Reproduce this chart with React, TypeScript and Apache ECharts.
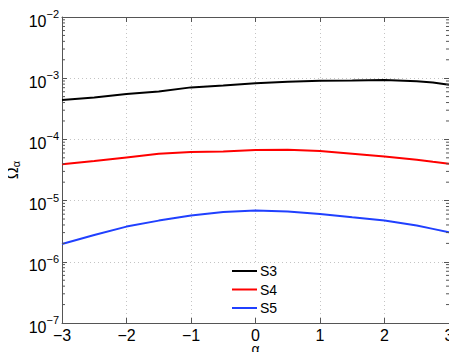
import React, { useEffect, useRef } from "react";
import * as echarts from "echarts";

const alphaValues = [-3, -2.5, -2, -1.5, -1, -0.5, 0, 0.5, 1, 1.5, 2, 2.5, 2.75, 3];
const s3Values = [4.41e-4, 4.85e-4, 5.52e-4, 6.08e-4, 7.08e-4, 7.62e-4, 8.28e-4, 8.77e-4, 9.09e-4, 9.2e-4, 9.35e-4, 8.9e-4, 8.53e-4, 7.83e-4];
const s4Values = [3.91e-5, 4.42e-5, 5.08e-5, 5.84e-5, 6.2e-5, 6.37e-5, 6.68e-5, 6.79e-5, 6.44e-5, 5.84e-5, 5.27e-5, 4.65e-5, 4.3e-5, 4.01e-5];
const s5Values = [1.96e-6, 2.75e-6, 3.76e-6, 4.71e-6, 5.69e-6, 6.53e-6, 6.87e-6, 6.61e-6, 6.06e-6, 5.33e-6, 4.71e-6, 3.91e-6, 3.45e-6, 3.03e-6];
const seriesNames = ["S3", "S4", "S5"];
const seriesColors = ["#000000", "#ff0000", "#2040ff"];
const xTicks = [-3, -2, -1, 0, 1, 2, 3];
const xMin = -3;
const xMax = 3;
const yMin = 1e-7;
const yMax = 1e-2;

const FONT = "'Liberation Sans', Arial, Helvetica, sans-serif";

function minorLogTicks(): number[] {
  const out: number[] = [];
  for (let e = -7; e <= -3; e++) {
    for (let k = 2; k <= 9; k++) out.push(parseFloat((k * Math.pow(10, e)).toPrecision(3)));
  }
  return out;
}

export default function App() {
  const ref = useRef<HTMLDivElement>(null);
  useEffect(() => {
    if (!ref.current) return;
    const chart = echarts.init(ref.current, undefined, { renderer: "svg" });
    const axisColor = "#555";
    const gridLine = { show: true, lineStyle: { color: "#c4c4c4", type: [1, 3] as any, width: 1 } };
    const minor = minorLogTicks();
    const yLabelFmt = (v: number) => {
      const e = Math.round(Math.log10(v));
      return "{b|10}{s|" + (e < 0 ? "\u2212" : "") + Math.abs(e) + "}";
    };
    const seriesData = [s3Values, s4Values, s5Values];
    const axisLine = { show: true, onZero: false, lineStyle: { color: axisColor, width: 1 } };
    const majorTick = { show: true, inside: true, length: 5, lineStyle: { color: axisColor } };
    chart.setOption({
      animation: false,
      textStyle: { fontFamily: FONT },
      grid: { left: 62, right: 8, top: 17, bottom: 37, containLabel: false, outerBoundsMode: "none" },
      legend: {
        data: seriesNames,
        orient: "vertical",
        left: 230,
        top: 263,
        icon: "rect",
        itemWidth: 25,
        itemHeight: 2,
        itemGap: 4.5,
        padding: [1, 2, 1, 2],
        backgroundColor: "#ffffff",
        textStyle: { fontSize: 14, color: "#000", fontFamily: FONT, lineHeight: 14, padding: [0, 0, 0, -2] },
      },
      xAxis: [
        {
          type: "value",
          position: "bottom",
          min: xMin,
          max: xMax,
          interval: 1,
          name: "\u03b1",
          nameLocation: "middle",
          nameGap: 20,
          nameMoveOverlap: false,
          nameTextStyle: { fontSize: 14, lineHeight: 12, color: "#000", fontFamily: FONT },
          axisLine,
          axisTick: majorTick,
          axisLabel: {
            fontSize: 16,
            lineHeight: 14,
            color: "#000",
            margin: 5,
            fontFamily: FONT,
            formatter: (v: number) => (v < 0 ? "\u2212" + Math.abs(v) : String(v)),
            customValues: xTicks,
          },
          splitLine: gridLine,
        },
        {
          type: "value",
          position: "top",
          min: xMin,
          max: xMax,
          interval: 1,
          axisLine,
          axisTick: majorTick,
          axisLabel: { show: false },
          splitLine: { show: false },
        },
      ],
      yAxis: [
        {
          type: "log",
          logBase: 10,
          position: "left",
          min: yMin,
          max: yMax,
          name: "{o|\u03a9}{a|\u03b1}",
          nameLocation: "middle",
          nameGap: 41,
          nameMoveOverlap: false,
          nameRotate: 90,
          nameTextStyle: {
            color: "#000",
            rich: {
              o: { fontSize: 16, fontFamily: FONT, color: "#000" },
              a: { fontSize: 11, fontFamily: FONT, color: "#000", padding: [6, 0, 0, 0] },
            },
          },
          axisLine,
          axisTick: majorTick,
          axisLabel: {
            margin: 3,
            formatter: yLabelFmt,
            rich: {
              b: { fontSize: 16, fontFamily: FONT, color: "#000", padding: [8, 0, 0, 0] },
              s: { fontSize: 11, fontFamily: FONT, color: "#000", padding: [0, 0, 6, 0] },
            },
          },
          splitLine: gridLine,
        },
        {
          type: "log",
          logBase: 10,
          position: "right",
          min: yMin,
          max: yMax,
          axisLine,
          axisTick: majorTick,
          axisLabel: { show: false },
          splitLine: { show: false },
        },
      ],
      series: [
        ...seriesNames.map((name, i) => ({
          name,
          type: "line",
          xAxisIndex: 0,
          yAxisIndex: 0,
          showSymbol: false,
          symbol: "none",
          color: seriesColors[i],
          lineStyle: { color: seriesColors[i], width: 2 },
          data: alphaValues.map((x, j) => [x, seriesData[i][j]]),
        })),
        {
          name: "minorTicks",
          type: "custom",
          xAxisIndex: 0,
          yAxisIndex: 0,
          silent: true,
          z: 5,
          data: minor.map((v) => [xMin, v]),
          renderItem: (params: any, api: any) => {
            const p = api.coord([xMin, api.value(1)]);
            const q = api.coord([xMax, api.value(1)]);
            const style = { stroke: axisColor, lineWidth: 1 };
            return {
              type: "group",
              children: [
                { type: "line", shape: { x1: p[0], y1: p[1], x2: p[0] + 3, y2: p[1] }, style },
                { type: "line", shape: { x1: q[0] - 3, y1: q[1], x2: q[0], y2: q[1] }, style },
              ],
            };
          },
        },
      ],
    });
    return () => chart.dispose();
  }, []);
  return <div ref={ref} style={{ width: 457, height: 360, margin: -8 }} />;
}
